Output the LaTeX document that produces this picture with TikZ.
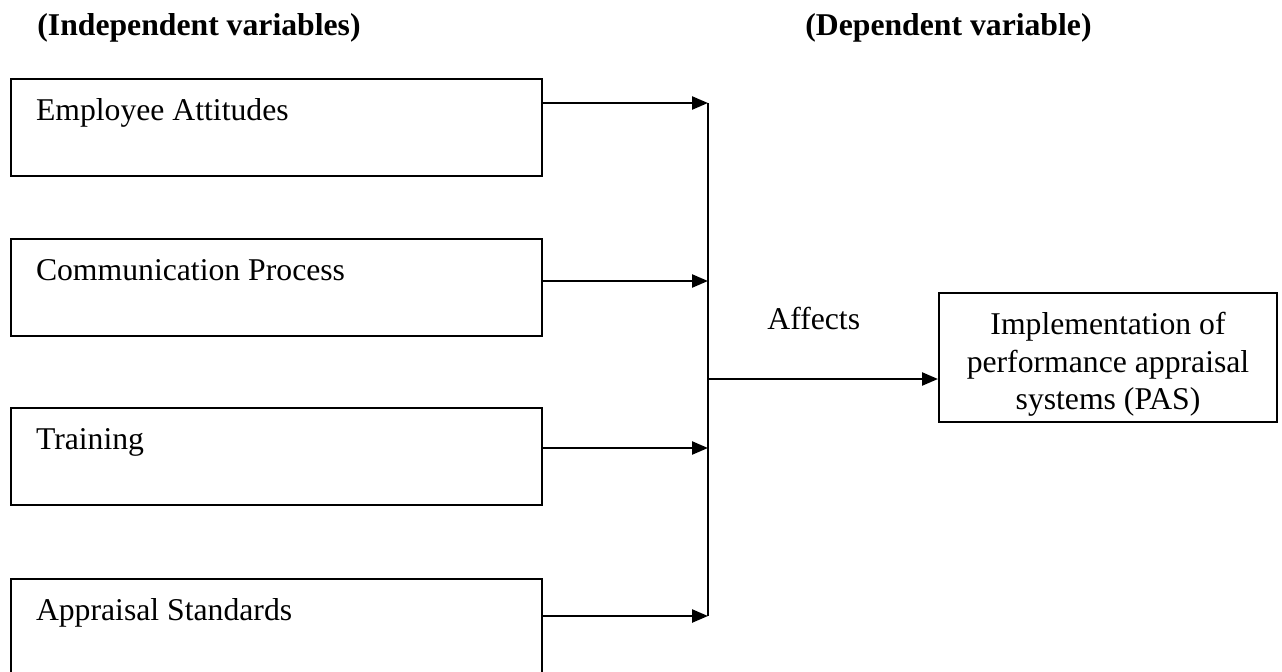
\documentclass[tikz,border=0pt]{standalone}
\usepackage{fontspec}
\setmainfont{Liberation Serif}
\usetikzlibrary{arrows.meta}
\begin{document}
\begin{tikzpicture}[x=0.5pt,y=-0.5pt,
  every node/.style={font=\fontsize{15.85pt}{18.5pt}\selectfont},
  varbox/.style={draw=black,line width=1pt,anchor=north west,inner xsep=12.5pt,inner ysep=0pt,
    text width=240.5pt,align=flush left,text height=20.5pt,text depth=28pt},
  outbox/.style={draw=black,line width=1pt,minimum width=169pt,minimum height=64.5pt,inner sep=0pt},
  outtext/.style={align=center,inner sep=0pt,font=\fontsize{15.85pt}{18.8pt}\selectfont},
  heading/.style={anchor=base west,inner sep=0pt,font=\fontsize{15.85pt}{18.5pt}\selectfont\bfseries},
  conn/.style={line width=1.2pt},
  arr/.style={conn,-{Triangle[length=8pt,width=6.5pt]}}]
\clip (0,0) rectangle (1282,671);
\fill[white] (0,0) rectangle (1282,671);
% headings
\node[heading] (hi) at (37,35) {(Independent variables)};
\node[heading] (hd) at (805,35) {(Dependent variable)};
% independent variable boxes
\node[varbox] (b1) at (10,78) {Employee Attitudes};
\node[varbox] (b2) at (10,238) {Communication Process};
\node[varbox] (b3) at (10,407) {Training};
\node[varbox] (b4) at (10,578) {Appraisal Standards};
% dependent box
\node[outbox] (out) at (1108,357.5) {};
\node[outtext] (outtxt) at ([yshift=-3.5pt]out.center) {Implementation of\\performance appraisal\\systems (PAS)};
\node[anchor=base west,inner sep=0pt] (aff) at (767,329) {Affects};
% junction coordinates
\coordinate (j1) at (708,103);
\coordinate (j2) at (708,281);
\coordinate (j3) at (708,448);
\coordinate (j4) at (708,616);
\coordinate (jm) at (708,379);
% connectors
\draw[arr] (j1 -| b1.east) -- (j1);
\draw[arr] (j2 -| b2.east) -- (j2);
\draw[arr] (j3 -| b3.east) -- (j3);
\draw[arr] (j4 -| b4.east) -- (j4);
\draw[conn] (j1) -- (j4);
\draw[arr] (jm) -- (jm -| out.west);
\end{tikzpicture}
\end{document}
